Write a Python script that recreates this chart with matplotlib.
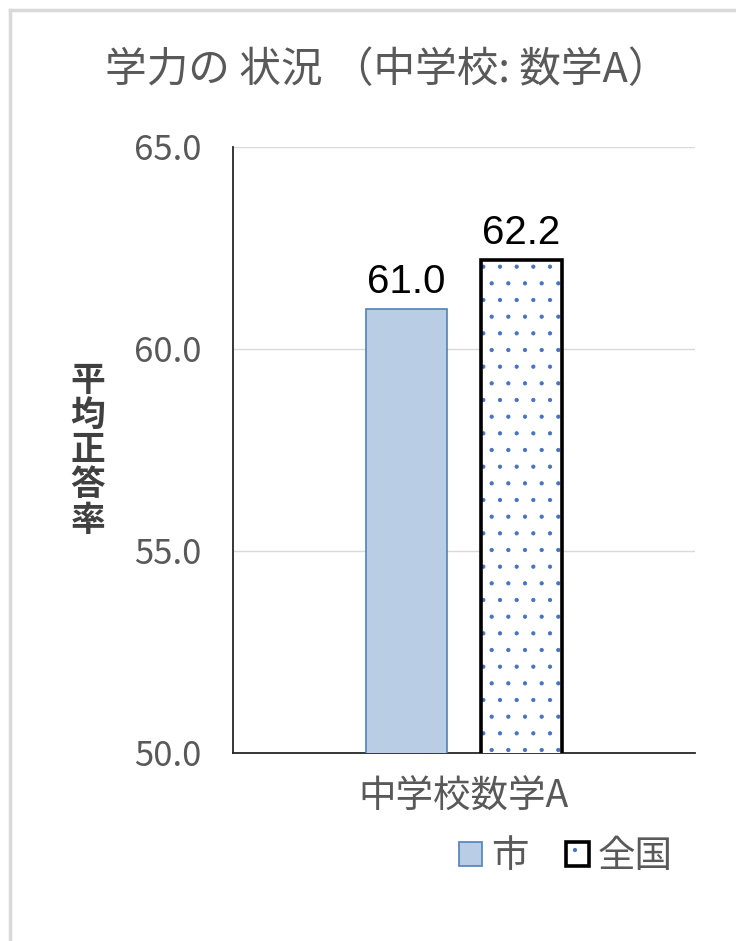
import matplotlib
matplotlib.use("Agg")
import matplotlib.pyplot as plt
from matplotlib.lines import Line2D
from matplotlib.legend_handler import HandlerTuple

plt.rcParams['font.family'] = ['Noto Sans CJK JP', 'DejaVu Sans']
plt.rcParams['hatch.linewidth'] = 0.6

# data
categories = ["中学校数学A"]
series_names = ["市", "全国"]
city_vals = [61.0]
nation_vals = [62.2]
yticks = [50.0, 55.0, 60.0, 65.0]

title = "学力の 状況 （中学校: 数学A）"
ylabel = "平均正答率"

gray_txt = "#595959"
city_face = "#B9CDE5"
city_edge = "#4F81BD"
dot_col = "#4472C4"

fig = plt.figure(figsize=(7.36, 9.41), dpi=100)
ax = fig.add_axes([233 / 736, 1 - 753 / 941, 462 / 736, 606 / 941])

x = list(range(len(categories)))
w = 0.175
off = 0.124

b1 = ax.bar([i - off for i in x], city_vals, width=w, color=city_face,
            edgecolor=city_edge, linewidth=1.2, zorder=3)
b2 = ax.bar([i + off for i in x], nation_vals, width=w, color="white",
            edgecolor=dot_col, hatch=".", linewidth=0, zorder=3)
b3 = ax.bar([i + off for i in x], nation_vals, width=w, fill=False,
            edgecolor="black", linewidth=2.6, zorder=4)

for xi, v in zip(x, city_vals):
    ax.text(xi - off, v + 0.2, f"{v:.1f}", ha="center", va="bottom",
            fontsize=29, family="Liberation Sans", color="black")
for xi, v in zip(x, nation_vals):
    ax.text(xi + off, v + 0.2, f"{v:.1f}", ha="center", va="bottom",
            fontsize=29, family="Liberation Sans", color="black")

ax.set_xlim(-0.5, 0.5)
ax.set_ylim(yticks[0], yticks[-1])
ax.set_yticks(yticks)
ax.set_yticklabels([f"{t:.1f}" for t in yticks])
ax.set_xticks(x)
ax.set_xticklabels(categories)
ax.tick_params(axis="y", length=0, pad=23, labelsize=25, labelcolor=gray_txt)
ax.tick_params(axis="x", length=0, pad=18, labelsize=27, labelcolor=gray_txt)
ax.grid(axis="y", color="#D9D9D9", linewidth=1.0, zorder=0)
ax.set_axisbelow(True)
for s in ["top", "right"]:
    ax.spines[s].set_visible(False)
ax.spines["left"].set_color("#262626")
ax.spines["left"].set_linewidth(1.3)
ax.spines["bottom"].set_color("#262626")
ax.spines["bottom"].set_linewidth(1.3)

fig.text(387 / 736, 1 - 71 / 941, title, ha="center", va="center",
         fontsize=30, color=gray_txt)
fig.text(88 / 736, 1 - 450 / 941, "\n".join(ylabel), ha="center", va="center",
         fontsize=25, fontweight="bold", color="#404040", linespacing=1.0)

fig.legend([b1.patches[0], (b2.patches[0], b3.patches[0])], series_names,
           handler_map={tuple: HandlerTuple(ndivide=1, pad=0)},
           loc="center", bbox_to_anchor=(566 / 736, 1 - 857 / 941),
           ncol=2, frameon=False, fontsize=27, labelcolor=gray_txt,
           handlelength=0.6, handleheight=0.6, handletextpad=0.25,
           columnspacing=1.0)

# outer chart border
fig.add_artist(Line2D([10 / 736, 10 / 736], [0, 1 - 10 / 941],
                      color="#D9D9D9", linewidth=2.5, transform=fig.transFigure))
fig.add_artist(Line2D([10 / 736, 1], [1 - 10 / 941, 1 - 10 / 941],
                      color="#D9D9D9", linewidth=2.5, transform=fig.transFigure))

fig.savefig("out.png", dpi=100)
